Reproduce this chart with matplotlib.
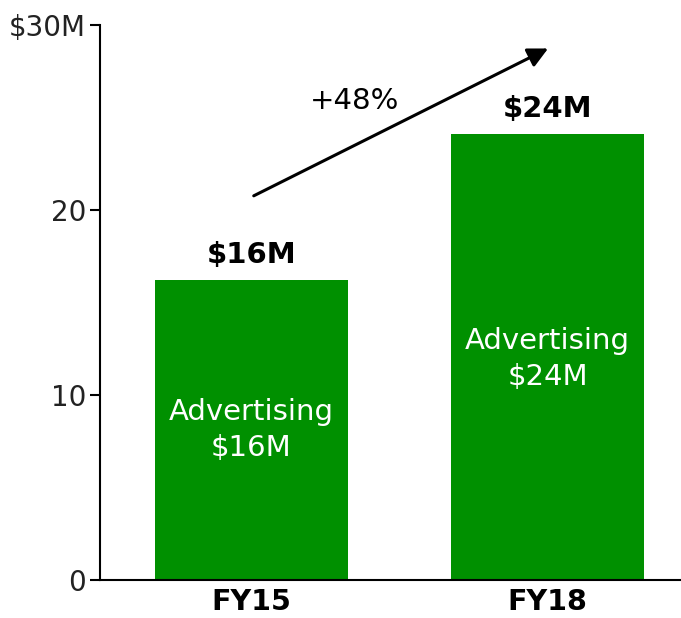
import matplotlib
matplotlib.use('Agg')
import matplotlib.pyplot as plt

years = ['FY15', 'FY18']
values = [16.2, 24.1]
top_labels = ['$16M', '$24M']
inner_labels = ['Advertising\n$16M', 'Advertising\n$24M']
inner_y = [8.1, 11.95]
growth = '+48%'

green = '#009000'

fig = plt.figure(figsize=(6.81, 6.18), dpi=100)
ax = fig.add_axes([0.147, 0.0615, 0.853, 0.898])

x = list(range(len(years)))
ax.bar(x, values, width=0.65, color=green)

for i, v in enumerate(values):
    ax.text(i, v + 0.6, top_labels[i], ha='center', va='bottom', fontsize=21, fontweight='bold')
    ax.text(i, inner_y[i], inner_labels[i], ha='center', va='center', fontsize=21,
            color='white', linespacing=1.35)

ax.annotate('', xy=(1.01, 28.8), xytext=(0.0, 20.7),
            arrowprops=dict(arrowstyle='-|>', color='black', lw=2.2, mutation_scale=30))
ax.text(0.35, 25.9, growth, ha='center', va='center', fontsize=21)

ax.set_xlim(-0.51, 1.45)
ax.set_ylim(0, 30)
ax.set_yticks([0, 10, 20, 30])
ax.set_yticklabels(['0', '10', '20', '$30M'], fontsize=20, color='#222222')
ax.set_xticks(x)
ax.set_xticklabels(years, fontsize=20.5, fontweight='bold')
ax.tick_params(axis='x', length=0, pad=6)
ax.tick_params(axis='y', length=7, width=1.5, direction='out', pad=3)
ax.spines['top'].set_visible(False)
ax.spines['right'].set_visible(False)
ax.spines['left'].set_linewidth(1.5)
ax.spines['bottom'].set_linewidth(1.5)

plt.savefig('out.png', dpi=100)
